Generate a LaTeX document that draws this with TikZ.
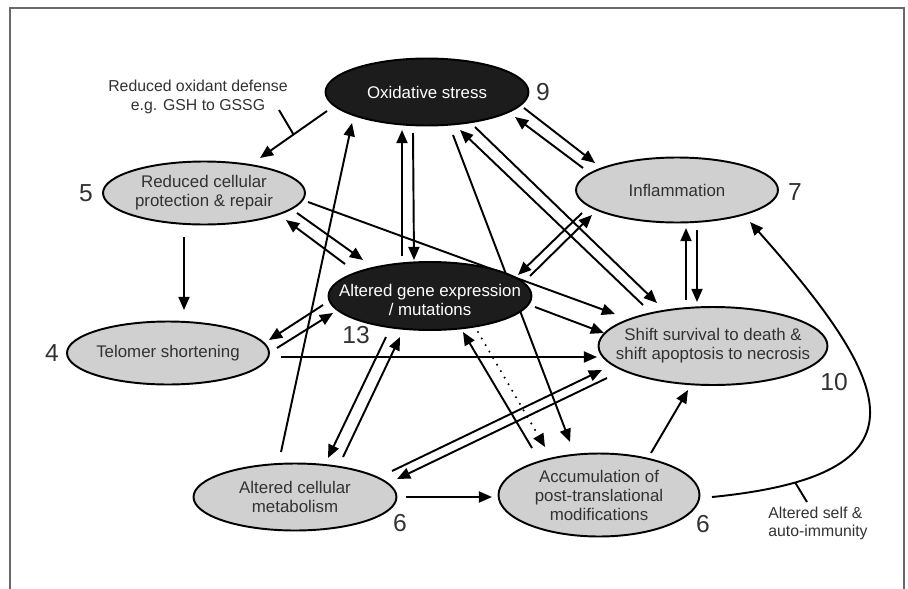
\documentclass[tikz,border=0pt]{standalone}
\usepackage{fontspec}
\setmainfont{Liberation Sans}
\usetikzlibrary{arrows.meta,shapes.geometric,backgrounds}
\definecolor{ellgray}{RGB}{208,208,208}
\definecolor{ellblack}{RGB}{28,28,28}
\definecolor{txtgray}{RGB}{50,50,50}
\definecolor{framegray}{RGB}{105,105,105}
\begin{document}
\begin{tikzpicture}[x=0.02cm,y=-0.02cm,
  ell/.style={ellipse,draw=black,line width=1.1pt,inner sep=0pt},
  lightell/.style={ell,fill=ellgray},
  darkell/.style={ell,fill=ellblack},
  intext/.style={font=\fontsize{9.6}{10.8}\selectfont,text=txtgray,align=center,inner sep=0pt},
  whitetext/.style={font=\fontsize{9.6}{10.8}\selectfont,text=white,align=center,inner sep=0pt},
  num/.style={font=\fontsize{14}{16}\selectfont,text=txtgray,inner sep=0pt},
  note/.style={font=\fontsize{9}{10.6}\selectfont,text=txtgray,inner sep=0pt},
  conn/.style={line width=1.1pt,-{Triangle[length=7.5pt,width=6.3pt]}},
  plain/.style={line width=1.1pt},
  dotconn/.style={conn,line width=1.3pt,line cap=round,dash pattern=on 0pt off 4.3pt}
]
\useasboundingbox (0,0) rectangle (908,588);

% ellipses
\node[darkell,minimum width=4.06cm,minimum height=1.34cm,
  label={[name=oxt,whitetext]center:Oxidative stress}] (ox) at (427,92) {};
\node[lightell,minimum width=4.04cm,minimum height=1.26cm,
  label={[name=redt,intext]center:{Reduced cellular\\protection \& repair}}] (red) at (204,193) {};
\node[lightell,minimum width=4.04cm,minimum height=1.30cm,
  label={[name=inflt,intext]center:Inflammation}] (infl) at (677,190) {};
\node[darkell,minimum width=4.06cm,minimum height=1.36cm,
  label={[name=genet,whitetext,yshift=-2pt]center:{Altered gene expression\\/ mutations}}] (gene) at (430,296) {};
\node[lightell,minimum width=4.04cm,minimum height=1.26cm,
  label={[name=telt,intext]center:Telomer shortening}] (tel) at (168,353) {};
\node[lightell,minimum width=4.58cm,minimum height=1.56cm,
  label={[name=shiftt,intext]center:{Shift survival to death \&\\shift apoptosis to necrosis}}] (shift) at (713,346) {};
\node[lightell,minimum width=4.06cm,minimum height=1.34cm,
  label={[name=mett,intext]center:{Altered cellular\\metabolism}}] (met) at (295,497) {};
\node[lightell,minimum width=4.02cm,minimum height=1.66cm,
  label={[name=acct,intext]center:{Accumulation of\\post-translational\\modifications}}] (acc) at (599,495) {};

% numbers
\node[num] (n9) at (543,92) {9};
\node[num] (n5) at (86,193) {5};
\node[num] (n7) at (795,192) {7};
\node[num] (n13) at (356,335) {13};
\node[num] (n4) at (52,353) {4};
\node[num] (n10) at (834,382) {10};
\node[num] (n6a) at (400,523) {6};
\node[num] (n6b) at (703,524) {6};

% annotations
\node[note,align=center] (odlbl) at (198,97) {Reduced oxidant defense\\e.g. GSH to GSSG};
\node[note,align=left,anchor=west] (ailbl) at (768,523.5) {Altered self \&\\auto-immunity};

\begin{pgfonlayer}{background}
\draw[framegray,line width=1.2pt] (10,595) -- (10,8) -- (904,8) -- (904,595);

% oxidative -> reduced protection, with annotation tick
\draw[conn] ([shift={(-100,19)}]ox.center) -- coordinate[pos=0.5] (m1) ([shift={(56,-35)}]red.center);
\draw[plain] (m1) -- ([shift={(81,13)}]odlbl.center);

% reduced -> telomer
\draw[conn] ([shift={(-20,44)}]red.center) -- ([shift={(16,-43)}]tel.center);

% reduced <-> gene
\draw[conn] ([shift={(-85,-32)}]gene.center) -- ([shift={(82,27)}]red.center);
\draw[conn] ([shift={(93,20)}]red.center) -- ([shift={(-67,-36)}]gene.center);

% reduced -> shift
\draw[conn] ([shift={(104,9)}]red.center) -- ([shift={(-98,-32)}]shift.center);

% oxidative <-> gene
\draw[conn] ([shift={(-28,-40)}]gene.center) -- ([shift={(-25,38)}]ox.center);
\draw[conn] ([shift={(-14,41)}]ox.center) -- ([shift={(-16,-36)}]gene.center);

% metabolism -> oxidative
\draw[conn] ([shift={(-14,-45)}]met.center) -- ([shift={(-75,31)}]ox.center);

% oxidative -> accumulation (passes under gene ellipse)
\draw[conn] ([shift={(26,43)}]ox.center) -- ([shift={(-29,-53)}]acc.center);

% oxidative <-> shift
\draw[conn] ([shift={(-70,-41)}]shift.center) -- ([shift={(33,38)}]ox.center);
\draw[conn] ([shift={(48,35)}]ox.center) -- ([shift={(-56,-43)}]shift.center);

% oxidative <-> inflammation
\draw[conn] ([shift={(-94,-22)}]infl.center) -- ([shift={(88,25)}]ox.center);
\draw[conn] ([shift={(97,16)}]ox.center) -- ([shift={(-82,-27)}]infl.center);

% inflammation <-> gene
\draw[conn] ([shift={(-95,23)}]infl.center) -- ([shift={(88,-21)}]gene.center);
\draw[conn] ([shift={(100,-20)}]gene.center) -- ([shift={(-85,25)}]infl.center);

% inflammation <-> shift
\draw[conn] ([shift={(-27,-46)}]shift.center) -- ([shift={(9,38)}]infl.center);
\draw[conn] ([shift={(20,40)}]infl.center) -- ([shift={(-16,-44)}]shift.center);

% gene -> shift
\draw[conn] ([shift={(105,11)}]gene.center) -- ([shift={(-109,-13)}]shift.center);

% telomer <-> gene
\draw[conn] ([shift={(-107,9)}]gene.center) -- ([shift={(101,-13)}]tel.center);
\draw[conn] ([shift={(109,-5)}]tel.center) -- ([shift={(-97,17)}]gene.center);

% telomer -> shift
\draw[conn] ([shift={(113,4)}]tel.center) -- ([shift={(-116,11)}]shift.center);

% metabolism <-> gene
\draw[conn] ([shift={(48,-40)}]met.center) -- ([shift={(-30,41)}]gene.center);
\draw[conn] ([shift={(-44,41)}]gene.center) -- ([shift={(33,-39)}]met.center);

% accumulation <-> gene
\draw[conn] ([shift={(-67,-47)}]acc.center) -- ([shift={(33,36)}]gene.center);
\draw[dotconn] ([shift={(48,36)}]gene.center) -- ([shift={(-54,-48)}]acc.center);

% metabolism <-> shift
\draw[conn] ([shift={(97,-26)}]met.center) -- ([shift={(-111,24)}]shift.center);
\draw[conn] ([shift={(-106,32)}]shift.center) -- ([shift={(102,-18)}]met.center);

% metabolism -> accumulation
\draw[conn] ([shift={(111,0)}]met.center) -- ([shift={(-107,2)}]acc.center);

% accumulation -> shift
\draw[conn] ([shift={(52,-42)}]acc.center) -- ([shift={(-25,44)}]shift.center);

% accumulation -> inflammation (curve), with annotation tick
\draw[conn] ([shift={(113,2)}]acc.center) .. controls +(223,-22) and +(145,163) .. coordinate[pos=0.15] (m2) ([shift={(73,32)}]infl.center);
\draw[plain] (m2) -- ([shift={(39,-21.5)}]ailbl.west);
\end{pgfonlayer}
\end{tikzpicture}
\end{document}
